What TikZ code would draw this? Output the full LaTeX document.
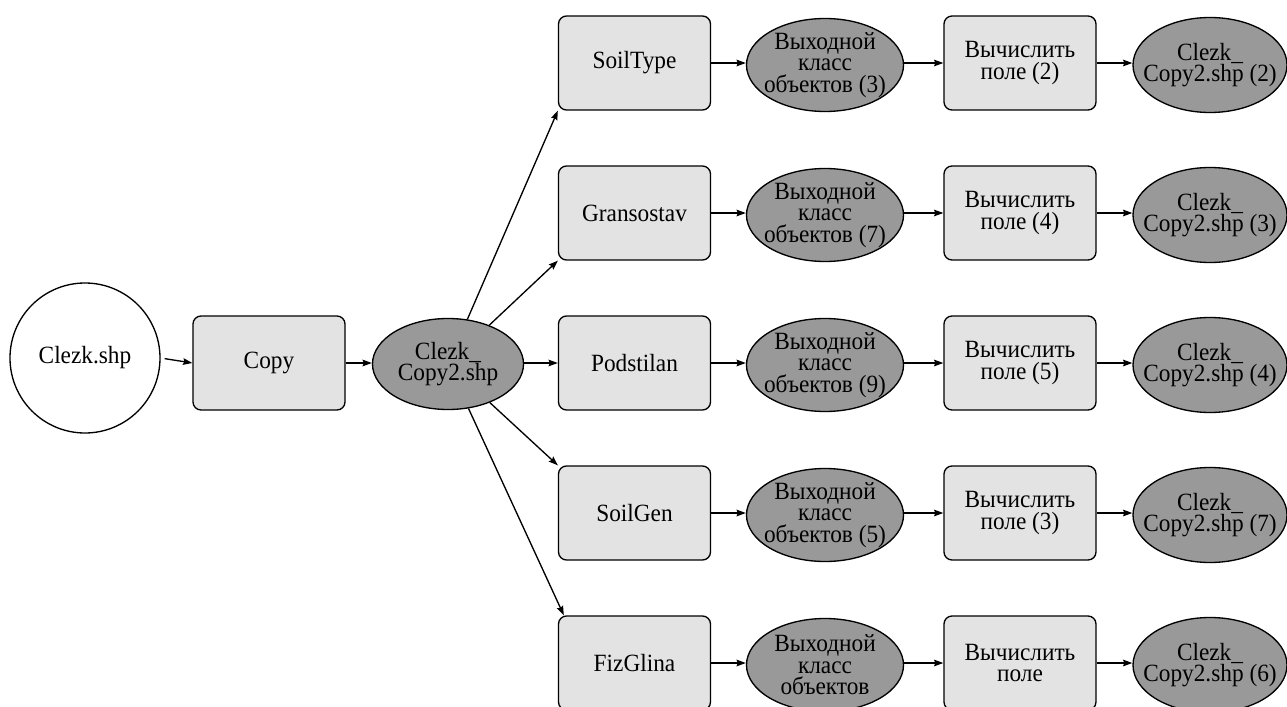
\documentclass[tikz,border=0pt]{standalone}
\usepackage{fontspec}
\setmainfont{Liberation Serif}[FakeStretch=0.94]
\usetikzlibrary{shapes.geometric,arrows.meta}
\definecolor{boxfill}{HTML}{E3E3E3}
\definecolor{ellfill}{HTML}{999999}
\newcommand\px{0.75pt}
\newcommand\dfont{\fontsize{18.6}{16.2}\selectfont}
\tikzset{
  base/.style={draw=black, line width=1pt, font=\dfont, align=center, inner sep=0pt},
  circnode/.style={base, circle, fill=white, minimum size=150*\px},
  boxnode/.style={base, rectangle, rounded corners=8*\px, fill=boxfill, minimum width=152*\px, minimum height=94*\px},
  ellnode/.style={base, ellipse, fill=ellfill, minimum width=157*\px, minimum height=93*\px},
  lbl/.style={font=\dfont, align=center, inner sep=0pt, text=black},
  arr/.style={line width=1pt, -{Stealth[length=7pt,width=5pt,inset=1pt]}}
}
\begin{document}
\begin{tikzpicture}[x=0.75pt,y=-0.75pt]
\useasboundingbox (0,0) rectangle (1287,706);
\clip (0,0) rectangle (1287,706);

\node[circnode] (src) at (85,358) {Clezk.shp};
\node[boxnode] (copy) at (269,363) {Copy};
\node[ellnode, minimum width=151*\px, minimum height=91*\px,
      label={[lbl]center:{Clezk\_\\Copy2.shp}}] (c2) at (448,364) {};

% column 1
\node[boxnode] (a1) at (634.5,63) {SoilType};
\node[boxnode] (a2) at (634.5,213) {Gransostav};
\node[boxnode] (a3) at (634.5,363) {Podstilan};
\node[boxnode] (a4) at (634.5,513) {SoilGen};
\node[boxnode] (a5) at (634.5,663) {FizGlina};

% column 2
\node[ellnode, label={[lbl]center:{Выходной\\класс\\объектов (3)}}] (b1) at (825,65) {};
\node[ellnode, label={[lbl]center:{Выходной\\класс\\объектов (7)}}] (b2) at (825,215) {};
\node[ellnode, label={[lbl]center:{Выходной\\класс\\объектов (9)}}] (b3) at (825,365) {};
\node[ellnode, label={[lbl]center:{Выходной\\класс\\объектов (5)}}] (b4) at (825,515) {};
\node[ellnode, label={[lbl]center:{Выходной\\класс\\объектов}}] (b5) at (825,665) {};

% column 3
\node[boxnode] (c31) at (1020,63) {Вычислить\\поле (2)};
\node[boxnode] (c32) at (1020,213) {Вычислить\\поле (4)};
\node[boxnode] (c33) at (1020,363) {Вычислить\\поле (5)};
\node[boxnode] (c34) at (1020,513) {Вычислить\\поле (3)};
\node[boxnode] (c35) at (1020,663) {Вычислить\\поле};

% column 4
\node[ellnode, minimum width=154*\px, minimum height=95*\px, label={[lbl]center:{Clezk\_\\Copy2.shp (2)}}] (d1) at (1210,65) {};
\node[ellnode, minimum width=154*\px, minimum height=95*\px, label={[lbl]center:{Clezk\_\\Copy2.shp (3)}}] (d2) at (1210,215) {};
\node[ellnode, minimum width=154*\px, minimum height=95*\px, label={[lbl]center:{Clezk\_\\Copy2.shp (4)}}] (d3) at (1210,365) {};
\node[ellnode, minimum width=154*\px, minimum height=95*\px, label={[lbl]center:{Clezk\_\\Copy2.shp (7)}}] (d4) at (1210,515) {};
\node[ellnode, minimum width=154*\px, minimum height=95*\px, label={[lbl]center:{Clezk\_\\Copy2.shp (6)}}] (d5) at (1210,665) {};

% connectors
\draw[arr, shorten <=4*\px] (src.east) -- (copy.west);
\draw[arr] (copy.east) -- (c2.west |- copy.east);
\draw[arr] (c2) -- (a1.south west);
\draw[arr] (c2) -- (a2.south west);
\draw[arr] (c2.east |- a3.west) -- (a3.west);
\draw[arr] (c2) -- (a4.north west);
\draw[arr] (c2) -- ([xshift=6*\px]a5.north west);

\foreach \i in {1,...,5}{
  \draw[arr] (a\i.east) -- (b\i.west |- a\i.east);
  \draw[arr] (b\i.east |- c3\i.west) -- (c3\i.west);
  \draw[arr] (c3\i.east) -- (d\i.west |- c3\i.east);
}
\end{tikzpicture}
\end{document}
